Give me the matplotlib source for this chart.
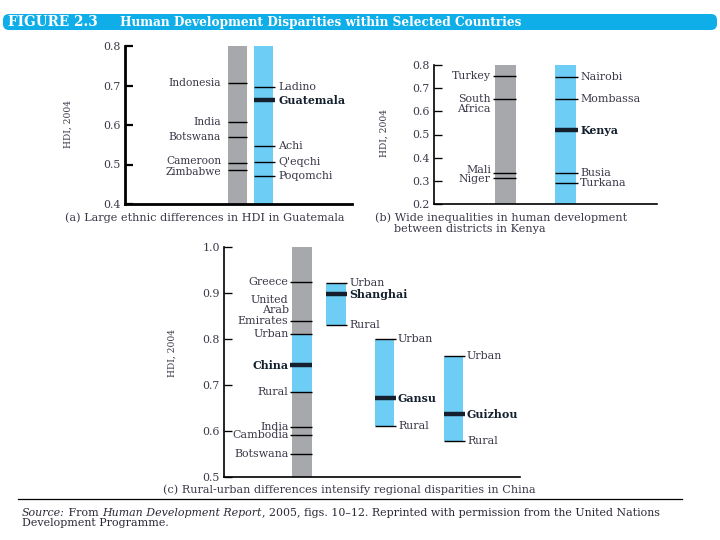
import matplotlib
matplotlib.use("Agg")
import matplotlib.pyplot as plt
from matplotlib.patches import FancyBboxPatch

# ---------------- data ----------------
# Panel (a): Guatemala
a_ref_names = ["Indonesia", "India", "Botswana", "Cameroon", "Zimbabwe"]
a_ref_hdi = [0.707, 0.607, 0.569, 0.504, 0.485]
a_grp_names = ["Ladino", "Guatemala", "Achi", "Q'eqchi", "Poqomchi"]
a_grp_hdi = [0.697, 0.663, 0.548, 0.506, 0.471]
a_bold = ["Guatemala"]
a_yticks = [0.4, 0.5, 0.6, 0.7, 0.8]

# Panel (b): Kenya
b_ref_names = ["Turkey", "South\nAfrica", "Mali", "Niger"]
b_ref_hdi = [0.754, 0.652, 0.332, 0.311]
b_grp_names = ["Nairobi", "Mombassa", "Kenya", "Busia", "Turkana"]
b_grp_hdi = [0.750, 0.652, 0.519, 0.332, 0.289]
b_bold = ["Kenya"]
b_yticks = [0.2, 0.3, 0.4, 0.5, 0.6, 0.7, 0.8]

# Panel (c): China
c_ref_names = ["Greece", "United\nArab\nEmirates", "India", "Cambodia", "Botswana"]
c_ref_hdi = [0.923, 0.839, 0.610, 0.591, 0.550]
c_regions = ["China", "Shanghai", "Gansu", "Guizhou"]
c_urban = [0.811, 0.922, 0.799, 0.764]
c_mean = [0.743, 0.897, 0.671, 0.637]
c_rural = [0.684, 0.830, 0.612, 0.579]
c_yticks = [0.5, 0.6, 0.7, 0.8, 0.9, 1.0]

# ---------------- style ----------------
FONT = "DejaVu Serif"
plt.rcParams["font.family"] = [FONT, "DejaVu Sans"]
GRAY = "#A7A8AB"
BLUE = "#6DCDF4"
BANNER = "#10AEE8"
TXT = "#3b3848"
DARK = "#14202e"
FS = 7.9

W, H = 720, 540
fig = plt.figure(figsize=(W / 100, H / 100), dpi=100)
fig.patch.set_facecolor("white")

bg = fig.add_axes([0, 0, 1, 1], zorder=-1)
bg.set_xlim(0, W)
bg.set_ylim(H, 0)
bg.axis("off")


def rect(l, t, r, b):
    return [l / W, 1 - b / H, (r - l) / W, (b - t) / H]


def setup(ax, ylim, yticks, lw):
    ax.set_ylim(*ylim)
    ax.set_xlim(0, 1)
    ax.set_yticks(yticks)
    ax.set_yticklabels([f"{v:.1f}" for v in yticks], fontsize=FS, color=TXT)
    ax.set_xticks([])
    for s in ["top", "right"]:
        ax.spines[s].set_visible(False)
    for s in ["left", "bottom"]:
        ax.spines[s].set_linewidth(lw)
        ax.spines[s].set_color("black")
    ax.tick_params(axis="y", direction="in", length=6, width=lw * 0.8, pad=3)
    ax.patch.set_alpha(0)


def label(ax, name, x, y, side, gap, bold=False, lh=10, anchor=0, nudge=0, fs=FS):
    lines = name.split("\n")
    for i, ln in enumerate(lines):
        dy = (anchor - i) * lh + nudge
        ax.annotate(ln, xy=(x, y), xytext=(-gap if side == "left" else gap, dy),
                    textcoords="offset pixels", ha="right" if side == "left" else "left",
                    va="center", fontsize=fs,
                    fontweight="bold" if bold else "normal",
                    color=DARK if bold else TXT)


def marker(ax, y, x0, x1, bold):
    ax.hlines(y, x0, x1, color=DARK if bold else "black",
              lw=3.2 if bold else 1.0, zorder=3)


# ---------------- panel (a) ----------------
axa = fig.add_axes(rect(125, 46, 352, 204))
ylim_a = (0.4, 0.8)
setup(axa, ylim_a, a_yticks, 2.0)
gx, bx, w = 0.496, 0.610, 0.084
axa.bar(gx, ylim_a[1] - ylim_a[0], bottom=ylim_a[0], width=w, color=GRAY, zorder=1)
axa.bar(bx, ylim_a[1] - ylim_a[0], bottom=ylim_a[0], width=w, color=BLUE, zorder=1)
a_nudge = {"Cameroon": 1.5, "Zimbabwe": -1.5}
for n, v in zip(a_ref_names, a_ref_hdi):
    marker(axa, v, gx - w / 2, gx + w / 2, False)
    label(axa, n, gx - w / 2, v, "left", 7, nudge=a_nudge.get(n, 0), fs=7.7)
for n, v in zip(a_grp_names, a_grp_hdi):
    marker(axa, v, bx - w / 2, bx + w / 2 + 0.01, n in a_bold)
    label(axa, n, bx + w / 2, v, "right", 5, bold=n in a_bold)

# ---------------- panel (b) ----------------
axb = fig.add_axes(rect(434, 65, 657, 204))
ylim_b = (0.2, 0.8)
setup(axb, ylim_b, b_yticks, 1.2)
gx, bx, w = 0.321, 0.590, 0.094
axb.bar(gx, ylim_b[1] - ylim_b[0], bottom=ylim_b[0], width=w, color=GRAY, zorder=1)
axb.bar(bx, ylim_b[1] - ylim_b[0], bottom=ylim_b[0], width=w, color=BLUE, zorder=1)
b_nudge = {"Mali": 3, "Niger": -1}
for n, v in zip(b_ref_names, b_ref_hdi):
    marker(axb, v, gx - w / 2 - 0.01, gx + w / 2, False)
    label(axb, n, gx - w / 2 - 0.01, v, "left", 2, lh=9.5, anchor=0, nudge=b_nudge.get(n, 0))
for n, v in zip(b_grp_names, b_grp_hdi):
    marker(axb, v, bx - w / 2, bx + w / 2 + 0.01, n in b_bold)
    label(axb, n, bx + w / 2 + 0.01, v, "right", 2, bold=n in b_bold)

# ---------------- panel (c) ----------------
axc = fig.add_axes(rect(224, 246.7, 520, 477.3))
ylim_c = (0.5, 1.0)
setup(axc, ylim_c, c_yticks, 1.2)
gx, w = 0.2635, 0.0676
rx = [0.378, 0.542, 0.775]
rw = 0.066
axc.bar(gx, ylim_c[1] - ylim_c[0], bottom=ylim_c[0], width=w, color=GRAY, zorder=1)
for n, v in zip(c_ref_names, c_ref_hdi):
    marker(axc, v, gx - w / 2 - 0.008, gx + w / 2, False)
    anchor = len(n.split("\n")) - 1
    label(axc, n, gx - w / 2 - 0.008, v, "left", 1, lh=10.7, anchor=anchor)
# China (national) on the gray bar
axc.bar(gx, c_urban[0] - c_rural[0], bottom=c_rural[0], width=w, color=BLUE, zorder=2)
for nm, v, b in [("Urban", c_urban[0], False), (c_regions[0], c_mean[0], True),
                 ("Rural", c_rural[0], False)]:
    marker(axc, v, gx - w / 2 - 0.008, gx + w / 2, b)
    label(axc, nm, gx - w / 2 - 0.008, v, "left", 1, bold=b)
# Provinces
for i, x in enumerate(rx):
    k = i + 1
    axc.bar(x, c_urban[k] - c_rural[k], bottom=c_rural[k], width=rw, color=BLUE, zorder=2)
    for nm, v, b in [("Urban", c_urban[k], False), (c_regions[k], c_mean[k], True),
                     ("Rural", c_rural[k], False)]:
        marker(axc, v, x - rw / 2, x + rw / 2 + 0.006, b)
        label(axc, nm, x + rw / 2 + 0.006, v, "right", 2, bold=b)

# ---------------- free text ----------------
bg.add_patch(FancyBboxPatch((3, 14), 714, 16, boxstyle="round,pad=0,rounding_size=6",
                            facecolor=BANNER, edgecolor="none"))
bg.text(8, 22.5, "FIGURE 2.3", color="white", fontsize=9.8, fontweight="bold",
        ha="left", va="center")
bg.text(120, 22.5, "Human Development Disparities within Selected Countries",
        color="white", fontsize=8.7, fontweight="bold", ha="left", va="center")

for x, y in [(68, 124), (384, 133), (172, 353)]:
    bg.text(x, y, "HDI, 2004", rotation=90, fontsize=6.6, color=TXT,
            ha="center", va="center")

CFS = 8.1
bg.text(65, 218, "(a) Large ethnic differences in HDI in Guatemala", fontsize=CFS,
        color=TXT, ha="left", va="center")
bg.text(375, 218, "(b) Wide inequalities in human development", fontsize=CFS,
        color=TXT, ha="left", va="center")
bg.text(394, 229, "between districts in Kenya", fontsize=CFS,
        color=TXT, ha="left", va="center")
bg.text(163, 490, "(c) Rural-urban differences intensify regional disparities in China",
        fontsize=CFS, color=TXT, ha="left", va="center")

bg.plot([18, 682], [499, 499], color="black", lw=0.9)

fig.canvas.draw()
renderer = fig.canvas.get_renderer()
SFS = 7.9
pieces = [("Source:", "italic"), (" From ", "normal"), ("Human Development Report", "italic"),
          (", 2005, figs. 10\u201312. Reprinted with permission from the United Nations", "normal")]
x = 22
for s, st in pieces:
    t = bg.text(x, 513, s, fontsize=SFS, style=st, color="#2a2a36", ha="left", va="center")
    x += t.get_window_extent(renderer).width
bg.text(22, 523.5, "Development Programme.", fontsize=SFS, color="#2a2a36",
        ha="left", va="center")

fig.savefig("out.png", dpi=100)
